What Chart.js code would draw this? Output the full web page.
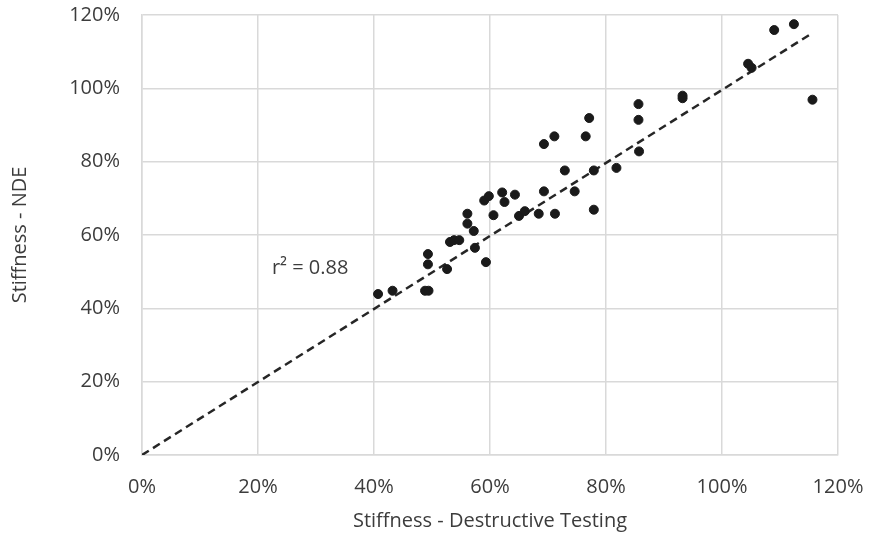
<!doctype html>
<html>

<head>
    <title>Stiffness</title>
    <script src="https://cdn.jsdelivr.net/npm/chart.js"></script>
</head>

<body style="margin:0; background-color:#fff;">

    <div style="width:870px; height:537px;">
        <canvas id="stiffness"></canvas>
    </div>

    <script>
        // stiffness from destructive testing (%)
        var destructive = [40.7, 43.2, 48.8, 49.4, 49.3, 49.3, 52.6, 53.1, 53.8, 54.7,
            56.1, 56.1, 57.2, 57.4, 59.3, 59.0, 59.8, 60.6, 62.1, 62.5,
            64.3, 65.0, 66.0, 68.4, 69.3, 71.2, 72.9, 74.6, 77.9, 77.9,
            81.8, 85.7, 69.3, 71.1, 76.5, 77.1, 85.6, 85.6, 93.2, 93.2,
            104.5, 105.1, 109.0, 112.4, 115.6];
        // stiffness from NDE (%)
        var nde = [43.9, 44.8, 44.8, 44.8, 54.8, 52.0, 50.7, 58.1, 58.6, 58.6,
            65.8, 63.1, 61.1, 56.5, 52.6, 69.4, 70.6, 65.4, 71.6, 69.0,
            71.0, 65.2, 66.5, 65.8, 71.9, 65.8, 77.6, 71.9, 77.6, 66.9,
            78.3, 82.8, 84.8, 86.9, 86.9, 91.9, 95.7, 91.4, 98.0, 97.3,
            106.7, 105.6, 115.9, 117.5, 96.9];
        // trend line end points
        var trendX = [0, 115.3];
        var trendY = [0, 114.8];
        var rLabel = 'r\u00b2 = 0.88';
        var rLabelAt = [22.4, 51];

        var pontos = destructive.map((v, i) => ({ x: v, y: nde[i] }));
        var tendencia = trendX.map((v, i) => ({ x: v, y: trendY[i] }));

        var textColor = '#3c3c3c';
        var gridColor = '#d9d9d9';
        var fonte = { family: 'Open Sans', size: 20 };

        var rotulo = {
            id: 'rotulo',
            afterDatasetsDraw(chart) {
                var ctx = chart.ctx;
                ctx.save();
                ctx.font = '20px "Open Sans"';
                ctx.fillStyle = textColor;
                ctx.textAlign = 'left';
                ctx.textBaseline = 'middle';
                ctx.fillText(rLabel, chart.scales.x.getPixelForValue(rLabelAt[0]), chart.scales.y.getPixelForValue(rLabelAt[1]));
                ctx.restore();
            }
        };

        new Chart(document.getElementById('stiffness').getContext('2d'), {
            type: 'scatter',
            data: {
                datasets: [{
                    label: 'Stiffness',
                    data: pontos,
                    backgroundColor: '#1a1a1a',
                    borderColor: '#1a1a1a',
                    pointRadius: 4.5,
                    pointHoverRadius: 4.5
                }, {
                    type: 'line',
                    label: 'Trend',
                    data: tendencia,
                    borderColor: '#262626',
                    borderWidth: 2.5,
                    borderDash: [8, 5],
                    pointRadius: 0,
                    fill: false
                }]
            },
            options: {
                responsive: true,
                maintainAspectRatio: false,
                animation: false,
                layout: { padding: { top: 15, right: 32, left: 0, bottom: 0 } },
                plugins: {
                    legend: { display: false },
                    tooltip: { enabled: false }
                },
                scales: {
                    x: {
                        type: 'linear',
                        min: 0,
                        max: 120,
                        afterFit: (s) => { s.height = 82; s.paddingLeft = 0; s.paddingRight = 0; },
                        grid: { color: gridColor, lineWidth: 1.5, drawTicks: false },
                        border: { color: gridColor, width: 1.5 },
                        ticks: {
                            stepSize: 20,
                            padding: 20,
                            color: textColor,
                            font: fonte,
                            callback: (v) => v + '%'
                        },
                        title: {
                            display: true,
                            text: 'Stiffness - Destructive Testing',
                            color: textColor,
                            font: fonte,
                            padding: { top: 3 }
                        }
                    },
                    y: {
                        min: 0,
                        max: 120,
                        afterFit: (s) => { s.width = 142; s.paddingTop = 0; s.paddingBottom = 0; },
                        grid: { color: gridColor, lineWidth: 1.5, drawTicks: false },
                        border: { color: gridColor, width: 1.5 },
                        ticks: {
                            stepSize: 20,
                            padding: 22,
                            color: textColor,
                            font: fonte,
                            callback: (v) => v + '%'
                        },
                        title: {
                            display: true,
                            text: 'Stiffness - NDE',
                            color: textColor,
                            font: fonte,
                            padding: { top: 8 }
                        }
                    }
                }
            },
            plugins: [rotulo]
        });
    </script>
</body>

</html>
